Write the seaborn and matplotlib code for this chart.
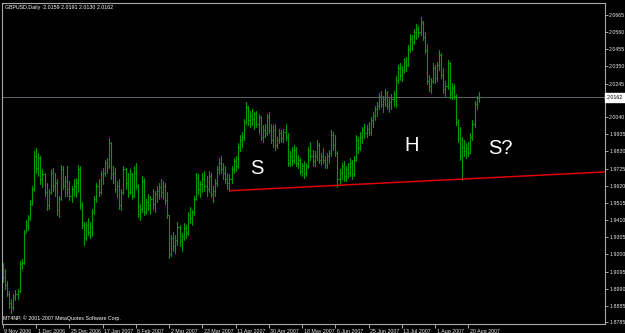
import numpy as np
import pandas as pd
import matplotlib
matplotlib.use("Agg")
import matplotlib.pyplot as plt
import matplotlib.transforms as mtransforms
import seaborn as sns

# ---------------- data ----------------
chart_title = "GBPUSD,Daily  2.0159 2.0191 2.0130 2.0162"
copyright_text = "MT4NP, \u00a9 2001-2007 MetaQuotes Software Corp."

opens = [
    1.9120, 1.9060, 1.9010, 1.8960, 1.8900, 1.8880, 1.8940, 1.8960, 1.8975, 1.9140,
    1.9150, 1.9330, 1.9380, 1.9420, 1.9510, 1.9600, 1.9800, 1.9730, 1.9790, 1.9660,
    1.9690, 1.9580, 1.9500, 1.9580, 1.9700, 1.9620, 1.9640, 1.9470, 1.9540, 1.9720,
    1.9620, 1.9650, 1.9600, 1.9560, 1.9600, 1.9620, 1.9640, 1.9720, 1.9500, 1.9380,
    1.9300, 1.9380, 1.9340, 1.9370, 1.9460, 1.9540, 1.9620, 1.9580, 1.9690, 1.9700,
    1.9760, 1.9740, 1.9880, 1.9690, 1.9700, 1.9600, 1.9620, 1.9500, 1.9580, 1.9720,
    1.9640, 1.9580, 1.9690, 1.9560, 1.9700, 1.9620, 1.9450, 1.9480, 1.9650, 1.9460,
    1.9520, 1.9500, 1.9540, 1.9510, 1.9570, 1.9590, 1.9610, 1.9580, 1.9620, 1.9530,
    1.9440, 1.9200, 1.9300, 1.9250, 1.9290, 1.9370, 1.9280, 1.9310, 1.9360, 1.9330,
    1.9440, 1.9420, 1.9460, 1.9540, 1.9670, 1.9600, 1.9630, 1.9660, 1.9620, 1.9600,
    1.9680, 1.9570, 1.9590, 1.9640, 1.9720, 1.9760, 1.9720, 1.9700, 1.9660, 1.9640,
    1.9660, 1.9720, 1.9770, 1.9740, 1.9860, 1.9900, 1.9920, 2.0010, 2.0100, 2.0020,
    2.0050, 2.0030, 2.0060, 2.0000, 2.0040, 1.9920, 1.9960, 1.9940, 2.0040, 1.9960,
    1.9900, 1.9960, 1.9870, 1.9900, 1.9940, 1.9910, 1.9950, 1.9920, 1.9760, 1.9800,
    1.9780, 1.9840, 1.9760, 1.9780, 1.9710, 1.9740, 1.9700, 1.9740, 1.9840, 1.9800,
    1.9770, 1.9800, 1.9870, 1.9780, 1.9800, 1.9780, 1.9750, 1.9800, 1.9820, 1.9930,
    1.9870, 1.9820, 1.9660, 1.9700, 1.9740, 1.9680, 1.9720, 1.9700, 1.9760, 1.9690,
    1.9780, 1.9900, 1.9850, 1.9920, 1.9960, 1.9940, 1.9970, 1.9950, 2.0020, 2.0050,
    2.0090, 2.0110, 2.0170, 2.0120, 2.0150, 2.0190, 2.0110, 2.0130, 2.0150, 2.0180,
    2.0270, 2.0340, 2.0300, 2.0330, 2.0380, 2.0360, 2.0460, 2.0520, 2.0500, 2.0560,
    2.0580, 2.0560, 2.0620, 2.0530, 2.0450, 2.0260, 2.0230, 2.0260, 2.0340, 2.0280,
    2.0360, 2.0420, 2.0300, 2.0210, 2.0230, 2.0370, 2.0190, 2.0220, 2.0170, 2.0010,
    1.9910, 1.9800, 1.9860, 1.9830, 1.9850, 1.9820, 1.9920, 2.0000, 2.0120, 2.0159,
]
highs = [
    1.9150, 1.9110, 1.9040, 1.8975, 1.8930, 1.8960, 1.8985, 1.8990, 1.9160, 1.9170,
    1.9350, 1.9410, 1.9440, 1.9530, 1.9620, 1.9830, 1.9850, 1.9820, 1.9800, 1.9720,
    1.9700, 1.9640, 1.9600, 1.9720, 1.9730, 1.9700, 1.9660, 1.9560, 1.9750, 1.9740,
    1.9680, 1.9740, 1.9650, 1.9620, 1.9660, 1.9670, 1.9750, 1.9740, 1.9520, 1.9400,
    1.9400, 1.9420, 1.9400, 1.9480, 1.9560, 1.9640, 1.9660, 1.9710, 1.9730, 1.9780,
    1.9790, 1.9910, 1.9890, 1.9740, 1.9730, 1.9650, 1.9660, 1.9600, 1.9740, 1.9730,
    1.9700, 1.9720, 1.9700, 1.9740, 1.9760, 1.9630, 1.9510, 1.9680, 1.9670, 1.9540,
    1.9570, 1.9560, 1.9600, 1.9590, 1.9620, 1.9640, 1.9660, 1.9650, 1.9640, 1.9580,
    1.9440, 1.9320, 1.9340, 1.9320, 1.9400, 1.9380, 1.9330, 1.9390, 1.9380, 1.9460,
    1.9490, 1.9470, 1.9560, 1.9700, 1.9690, 1.9650, 1.9700, 1.9710, 1.9680, 1.9710,
    1.9700, 1.9620, 1.9660, 1.9740, 1.9790, 1.9800, 1.9760, 1.9740, 1.9700, 1.9690,
    1.9740, 1.9790, 1.9800, 1.9880, 1.9930, 1.9950, 2.0030, 2.0130, 2.0110, 2.0080,
    2.0090, 2.0070, 2.0080, 2.0060, 2.0050, 1.9990, 2.0000, 2.0060, 2.0070, 2.0000,
    1.9990, 2.0000, 1.9920, 1.9970, 1.9960, 1.9970, 2.0000, 1.9940, 1.9830, 1.9860,
    1.9870, 1.9860, 1.9810, 1.9790, 1.9760, 1.9770, 1.9760, 1.9860, 1.9890, 1.9840,
    1.9830, 1.9900, 1.9880, 1.9820, 1.9850, 1.9800, 1.9820, 1.9840, 1.9960, 1.9950,
    1.9930, 1.9830, 1.9720, 1.9760, 1.9770, 1.9740, 1.9760, 1.9790, 1.9780, 1.9800,
    1.9930, 1.9920, 1.9950, 1.9980, 2.0000, 1.9990, 2.0010, 2.0040, 2.0070, 2.0110,
    2.0130, 2.0190, 2.0200, 2.0170, 2.0210, 2.0200, 2.0160, 2.0180, 2.0200, 2.0290,
    2.0360, 2.0370, 2.0350, 2.0400, 2.0410, 2.0480, 2.0550, 2.0540, 2.0580, 2.0610,
    2.0600, 2.0650, 2.0630, 2.0560, 2.0490, 2.0300, 2.0280, 2.0370, 2.0360, 2.0380,
    2.0450, 2.0430, 2.0340, 2.0260, 2.0390, 2.0380, 2.0250, 2.0240, 2.0180, 2.0030,
    1.9980, 1.9920, 1.9900, 1.9880, 1.9890, 1.9940, 2.0020, 2.0140, 2.0170, 2.0191,
]
lows = [
    1.9030, 1.8990, 1.8945, 1.8870, 1.8840, 1.8860, 1.8920, 1.8925, 1.8970, 1.9110,
    1.9140, 1.9340, 1.9350, 1.9410, 1.9500, 1.9590, 1.9700, 1.9680, 1.9630, 1.9610,
    1.9560, 1.9470, 1.9480, 1.9570, 1.9590, 1.9560, 1.9440, 1.9430, 1.9530, 1.9600,
    1.9560, 1.9560, 1.9530, 1.9520, 1.9560, 1.9550, 1.9580, 1.9480, 1.9360, 1.9260,
    1.9290, 1.9320, 1.9300, 1.9310, 1.9450, 1.9520, 1.9560, 1.9570, 1.9630, 1.9680,
    1.9700, 1.9730, 1.9660, 1.9640, 1.9580, 1.9550, 1.9480, 1.9470, 1.9570, 1.9600,
    1.9550, 1.9570, 1.9540, 1.9550, 1.9600, 1.9430, 1.9410, 1.9460, 1.9440, 1.9450,
    1.9470, 1.9450, 1.9480, 1.9460, 1.9520, 1.9540, 1.9550, 1.9540, 1.9510, 1.9420,
    1.9180, 1.9190, 1.9220, 1.9210, 1.9260, 1.9250, 1.9220, 1.9290, 1.9300, 1.9320,
    1.9390, 1.9380, 1.9440, 1.9530, 1.9570, 1.9550, 1.9580, 1.9590, 1.9560, 1.9580,
    1.9550, 1.9520, 1.9560, 1.9620, 1.9690, 1.9700, 1.9660, 1.9640, 1.9600, 1.9590,
    1.9640, 1.9700, 1.9710, 1.9730, 1.9830, 1.9860, 1.9900, 2.0000, 1.9990, 1.9980,
    1.9990, 1.9970, 1.9980, 1.9940, 1.9900, 1.9890, 1.9920, 1.9930, 1.9940, 1.9880,
    1.9860, 1.9840, 1.9850, 1.9880, 1.9890, 1.9890, 1.9900, 1.9740, 1.9740, 1.9750,
    1.9760, 1.9740, 1.9730, 1.9690, 1.9680, 1.9670, 1.9680, 1.9730, 1.9780, 1.9740,
    1.9740, 1.9780, 1.9760, 1.9750, 1.9760, 1.9730, 1.9730, 1.9760, 1.9800, 1.9840,
    1.9800, 1.9615, 1.9640, 1.9660, 1.9650, 1.9650, 1.9670, 1.9680, 1.9660, 1.9680,
    1.9770, 1.9820, 1.9840, 1.9880, 1.9910, 1.9920, 1.9930, 1.9930, 1.9980, 2.0020,
    2.0050, 2.0090, 2.0100, 2.0070, 2.0110, 2.0090, 2.0070, 2.0090, 2.0110, 2.0100,
    2.0250, 2.0270, 2.0260, 2.0310, 2.0320, 2.0350, 2.0440, 2.0450, 2.0490, 2.0520,
    2.0530, 2.0540, 2.0510, 2.0430, 2.0240, 2.0200, 2.0190, 2.0250, 2.0250, 2.0260,
    2.0330, 2.0280, 2.0190, 2.0170, 2.0210, 2.0160, 2.0150, 2.0150, 1.9990, 1.9890,
    1.9780, 1.9655, 1.9800, 1.9790, 1.9800, 1.9820, 1.9900, 1.9980, 2.0090, 2.0130,
]
closes = [
    1.9060, 1.9010, 1.8960, 1.8900, 1.8880, 1.8940, 1.8960, 1.8975, 1.9140, 1.9150,
    1.9330, 1.9380, 1.9420, 1.9510, 1.9600, 1.9800, 1.9730, 1.9790, 1.9660, 1.9690,
    1.9580, 1.9500, 1.9580, 1.9700, 1.9620, 1.9640, 1.9470, 1.9540, 1.9720, 1.9620,
    1.9650, 1.9600, 1.9560, 1.9600, 1.9620, 1.9640, 1.9720, 1.9500, 1.9380, 1.9300,
    1.9380, 1.9340, 1.9370, 1.9460, 1.9540, 1.9620, 1.9580, 1.9690, 1.9700, 1.9760,
    1.9740, 1.9880, 1.9690, 1.9700, 1.9600, 1.9620, 1.9500, 1.9580, 1.9720, 1.9640,
    1.9580, 1.9690, 1.9560, 1.9700, 1.9620, 1.9450, 1.9480, 1.9650, 1.9460, 1.9520,
    1.9500, 1.9540, 1.9510, 1.9570, 1.9590, 1.9610, 1.9580, 1.9620, 1.9530, 1.9440,
    1.9200, 1.9300, 1.9250, 1.9290, 1.9370, 1.9280, 1.9310, 1.9360, 1.9330, 1.9440,
    1.9420, 1.9460, 1.9540, 1.9670, 1.9600, 1.9630, 1.9660, 1.9620, 1.9600, 1.9680,
    1.9570, 1.9590, 1.9640, 1.9720, 1.9760, 1.9720, 1.9700, 1.9660, 1.9640, 1.9660,
    1.9720, 1.9770, 1.9740, 1.9860, 1.9900, 1.9920, 2.0010, 2.0100, 2.0020, 2.0050,
    2.0030, 2.0060, 2.0000, 2.0040, 1.9920, 1.9960, 1.9940, 2.0040, 1.9960, 1.9900,
    1.9960, 1.9870, 1.9900, 1.9940, 1.9910, 1.9950, 1.9920, 1.9760, 1.9800, 1.9780,
    1.9840, 1.9760, 1.9780, 1.9710, 1.9740, 1.9700, 1.9740, 1.9840, 1.9800, 1.9770,
    1.9800, 1.9870, 1.9780, 1.9800, 1.9780, 1.9750, 1.9800, 1.9820, 1.9930, 1.9870,
    1.9820, 1.9660, 1.9700, 1.9740, 1.9680, 1.9720, 1.9700, 1.9760, 1.9690, 1.9780,
    1.9900, 1.9850, 1.9920, 1.9960, 1.9940, 1.9970, 1.9950, 2.0020, 2.0050, 2.0090,
    2.0110, 2.0170, 2.0120, 2.0150, 2.0190, 2.0110, 2.0130, 2.0150, 2.0180, 2.0270,
    2.0340, 2.0300, 2.0330, 2.0380, 2.0360, 2.0460, 2.0520, 2.0500, 2.0560, 2.0580,
    2.0560, 2.0620, 2.0530, 2.0450, 2.0260, 2.0230, 2.0260, 2.0340, 2.0280, 2.0360,
    2.0420, 2.0300, 2.0210, 2.0230, 2.0370, 2.0190, 2.0220, 2.0170, 2.0010, 1.9910,
    1.9800, 1.9860, 1.9830, 1.9850, 1.9820, 1.9920, 2.0000, 2.0120, 2.0159, 2.0162,
]

date_labels = ["9 Nov 2006", "1 Dec 2006", "25 Dec 2006", "17 Jan 2007", "8 Feb 2007",
               "2 Mar 2007", "23 Mar 2007", "11 Apr 2007", "30 Apr 2007", "18 May 2007",
               "6 Jun 2007", "25 Jun 2007", "13 Jul 2007", "1 Aug 2007", "20 Aug 2007"]
date_label_bars = [0, 16, 32, 48, 64, 80, 96, 112, 128, 144, 160, 176, 192, 208, 224]

price_labels = ["2.0665", "2.0560", "2.0455", "2.0350", "2.0245", "2.0140", "2.0040",
                "1.9935", "1.9830", "1.9725", "1.9620", "1.9515", "1.9410", "1.9305",
                "1.9200", "1.9095", "1.8990", "1.8885", "1.8785"]
current_price = 2.0162

trend_bars = [109.6, 292.0]
trend_prices = [1.9590, 1.9706]

pattern_labels = ["S", "H", "S?"]
pattern_bars = [122.0, 196.5, 239.5]
pattern_prices = [1.9727, 1.9867, 1.9850]

# ---------------- style ----------------
sns.set_theme(style="dark", rc={"axes.facecolor": "black", "figure.facecolor": "black",
                                "axes.grid": False})
plt.rcParams["font.family"] = ["Liberation Sans", "DejaVu Sans"]

W, H = 625, 333
fig = plt.figure(figsize=(W / 100, H / 100), dpi=100)
ax = fig.add_axes([2 / W, 9 / H, 603 / W, 321 / H])
ax.set_facecolor("black")

bar_color = "#009c00"
idx = np.arange(len(closes))

# high-low bars drawn with seaborn (one unit per bar)
df_bars = pd.DataFrame({
    "bar": np.repeat(idx, 2),
    "price": np.column_stack([lows, highs]).ravel(),
})
sns.lineplot(data=df_bars, x="bar", y="price", units="bar", estimator=None,
             color=bar_color, lw=0.8, ax=ax, legend=False, sort=False)
# open / close ticks
ax.hlines(opens, idx - 0.5, idx, color=bar_color, lw=0.75)
ax.hlines(closes, idx, idx + 0.5, color=bar_color, lw=0.75)

# current price line
ax.axhline(current_price, color="#6c7680", lw=0.6, zorder=1)

# trend line
sns.lineplot(x=trend_bars, y=trend_prices, color="#e00000", lw=1.1, ax=ax, legend=False)

# pattern labels
for lab, b, p in zip(pattern_labels, pattern_bars, pattern_prices):
    ax.text(b, p, lab, color="white", fontsize=14.5, ha="center", va="center",
            family=["Liberation Sans", "DejaVu Sans"])

ax.set_xlim(-0.48, 289.8)
ax.set_ylim(1.87741, 2.07386)

# axes
ax.yaxis.tick_right()
ax.set_yticks([float(s) for s in price_labels])
ax.set_yticklabels(price_labels)
ax.set_xticks(date_label_bars)
ax.set_xticklabels(date_labels, ha="left")
ax.tick_params(axis="y", which="both", right=True, left=False, length=2, width=0.6,
               color="#c0c0c0", labelcolor="#e8e8e8", labelsize=3.8, pad=1)
ax.tick_params(axis="x", which="both", bottom=True, length=3, width=0.6,
               color="#c0c0c0", labelcolor="#e8e8e8", labelsize=3.8, pad=0.6)
shift = mtransforms.ScaledTranslation(1.5 / 100, 0, fig.dpi_scale_trans)
for lbl in ax.get_xticklabels():
    lbl.set_transform(lbl.get_transform() + shift)
ax.set_xlabel("")
ax.set_ylabel("")
ax.grid(False)
for side, sp in ax.spines.items():
    sp.set_visible(True)
    sp.set_color("#a8a8a8")
    sp.set_linewidth(0.8)

# current price box
blend = mtransforms.blended_transform_factory(ax.transAxes, ax.transData)
ax.text(1.0 + 2 / 603, current_price, f"{current_price:.4f}", transform=blend,
        fontsize=3.8, color="black", ha="left", va="center", clip_on=False, zorder=10,
        bbox=dict(boxstyle="square,pad=0.35", fc="white", ec="white"))

# header and footer texts
fig.text(5 / W, 1 - 8 / H, chart_title, color="white", fontsize=3.8, ha="left", va="center")
fig.text(3 / W, 1 - 318 / H, copyright_text, color="white", fontsize=3.8, ha="left", va="center")

fig.savefig("out.png", dpi=100, facecolor="black")
